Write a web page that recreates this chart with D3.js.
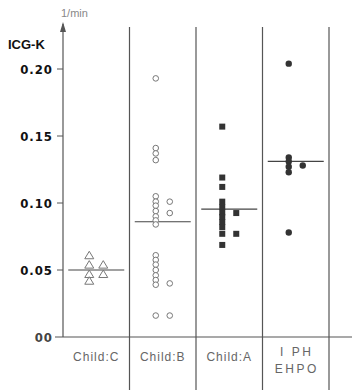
<!DOCTYPE html>
<html>
<head>
<meta charset="utf-8">
<script src="https://cdn.jsdelivr.net/npm/d3@7"></script>
<style>
  body { margin: 0; background: #fff; }
  svg { display: block; }
</style>
</head>
<body>
<div id="chart"></div>
<script>
// groups and their x labels
const groups = ["Child:C", "Child:B", "Child:A", "IPH"];
const groupLabels = [["Child:C"], ["Child:B"], ["Child:A"], ["I PH", "EHPO"]];
const markers = ["triangle", "circle-open", "square", "circle-filled"];

// ICG-K values per group, [value, side] (side: L/R column in the dot plot)
const childC = [[0.061, "L"], [0.054, "L"], [0.054, "R"], [0.047, "L"], [0.047, "R"], [0.042, "L"]];
const childB = [
  [0.193, "L"], [0.141, "L"], [0.137, "L"], [0.132, "L"],
  [0.105, "L"], [0.101, "L"], [0.098, "L"], [0.094, "L"], [0.090, "L"], [0.087, "L"], [0.084, "L"],
  [0.101, "R"], [0.0925, "R"],
  [0.061, "L"], [0.0575, "L"], [0.054, "L"], [0.050, "L"], [0.046, "L"], [0.0425, "L"], [0.039, "L"],
  [0.040, "R"], [0.016, "L"], [0.016, "R"]
];
const childA = [
  [0.157, "L"], [0.119, "L"], [0.112, "L"], [0.101, "L"], [0.097, "L"], [0.093, "L"],
  [0.0896, "L"], [0.0858, "L"], [0.082, "L"], [0.077, "L"], [0.0687, "L"],
  [0.0925, "R"], [0.077, "R"]
];
const iph = [[0.204, "L"], [0.134, "L"], [0.131, "L"], [0.127, "L"], [0.123, "L"], [0.128, "R"], [0.078, "L"]];
const groupValues = [childC, childB, childA, iph];

// mean line of each group
const means = [0.050, 0.086, 0.0955, 0.131];

// y ticks
const yTicks = [0, 0.05, 0.10, 0.15, 0.20];
const yTickLabels = ["00", "0.05", "0.10", "0.15", "0.20"];

const W = 352, H = 391;
const svg = d3.select("#chart").append("svg")
  .attr("width", W).attr("height", H);

const x = d3.scaleBand().domain(groups).range([63, 329]).padding(0);
const side = d3.scalePoint().domain(["L", "R"]).range([-7, 7]);
const y = d3.scaleLinear().domain([0, 0.20]).range([337, 69]);

const lineColor = "#555";

// group separators (run below the baseline like in the original)
const seps = groups.slice(1).map(g => x(g)).concat([x.range()[1]]);
svg.selectAll("line.sep")
  .data(seps)
  .enter().append("line")
  .attr("class", "sep")
  .attr("x1", d => d).attr("x2", d => d)
  .attr("y1", 27).attr("y2", 390)
  .attr("stroke", lineColor).attr("stroke-width", 1.2);

// y axis with arrow
svg.append("line")
  .attr("x1", x.range()[0]).attr("x2", x.range()[0])
  .attr("y1", 24).attr("y2", 337)
  .attr("stroke", lineColor).attr("stroke-width", 1.2);
svg.append("path")
  .attr("d", `M${x.range()[0] - 3},32 L${x.range()[0]},22 L${x.range()[0] + 3},32 Z`)
  .attr("fill", lineColor);

// baseline
svg.append("line")
  .attr("x1", 55).attr("x2", W)
  .attr("y1", y(0)).attr("y2", y(0))
  .attr("stroke", lineColor).attr("stroke-width", 1.2);

// ticks
svg.selectAll("line.tick")
  .data(yTicks.slice(1))
  .enter().append("line")
  .attr("class", "tick")
  .attr("x1", 57).attr("x2", x.range()[0])
  .attr("y1", d => y(d)).attr("y2", d => y(d))
  .attr("stroke", lineColor).attr("stroke-width", 1);

svg.selectAll("text.ytick")
  .data(yTicks)
  .enter().append("text")
  .attr("class", "ytick")
  .attr("x", 53)
  .attr("y", d => y(d))
  .attr("dy", "0.36em")
  .attr("text-anchor", "end")
  .style("font-family", "'DejaVu Sans Condensed', 'DejaVu Sans', sans-serif")
  .style("font-weight", "bold")
  .style("font-size", "13px")
  .style("letter-spacing", "1px")
  .attr("fill", (d, i) => i === 0 ? "#444" : "#111")
  .text((d, i) => yTickLabels[i]);

// axis titles
svg.append("text")
  .attr("x", 8).attr("y", 49)
  .style("font-family", "'Liberation Sans', Arial, sans-serif")
  .style("font-weight", "bold")
  .style("font-size", "13px")
  .attr("fill", "#111")
  .text("ICG-K");
svg.append("text")
  .attr("x", 61).attr("y", 17)
  .style("font-family", "'Liberation Sans', Arial, sans-serif")
  .style("font-size", "11px")
  .attr("fill", "#888")
  .text("1/min");

// group labels
groupLabels.forEach((lines, i) => {
  const cx = x(groups[i]) + x.bandwidth() / 2;
  lines.forEach((s, j) => {
    svg.append("text")
      .attr("x", cx + (lines.length > 1 ? 1 : 0))
      .attr("y", lines.length > 1 ? 356 + j * 17 : 361)
      .attr("text-anchor", "middle")
      .style("font-family", "'Liberation Sans', Arial, sans-serif")
      .style("font-size", "12px")
      .style("letter-spacing", lines.length > 1 ? "2.5px" : "1px")
      .attr("fill", "#666")
      .text(s);
  });
});

// mean lines
svg.selectAll("line.mean")
  .data(means)
  .enter().append("line")
  .attr("class", "mean")
  .attr("x1", (d, i) => x(groups[i]) + x.bandwidth() / 2 - 28)
  .attr("x2", (d, i) => x(groups[i]) + x.bandwidth() / 2 + 28)
  .attr("y1", d => y(d)).attr("y2", d => y(d))
  .attr("stroke", "#444").attr("stroke-width", 1.2);

// points
groupValues.forEach((vals, i) => {
  const g = groups[i];
  const cx = d => x(g) + x.bandwidth() / 2 + side(d[1]);
  const sel = svg.append("g").selectAll("g")
    .data(vals)
    .enter().append("g")
    .attr("transform", d => `translate(${cx(d)},${y(d[0])})`);
  const m = markers[i];
  if (m === "triangle") {
    sel.append("path")
      .attr("d", "M0,-4 L4.5,3.5 L-4.5,3.5 Z")
      .attr("fill", "#fff").attr("stroke", "#777").attr("stroke-width", 1);
  } else if (m === "circle-open") {
    sel.append("circle").attr("r", 2.8)
      .attr("fill", "#fff").attr("stroke", "#777").attr("stroke-width", 1);
  } else if (m === "square") {
    sel.append("rect").attr("x", -3).attr("y", -3).attr("width", 6).attr("height", 6)
      .attr("fill", "#333");
  } else {
    sel.append("circle").attr("r", 3.2).attr("fill", "#333");
  }
});
</script>
</body>
</html>
